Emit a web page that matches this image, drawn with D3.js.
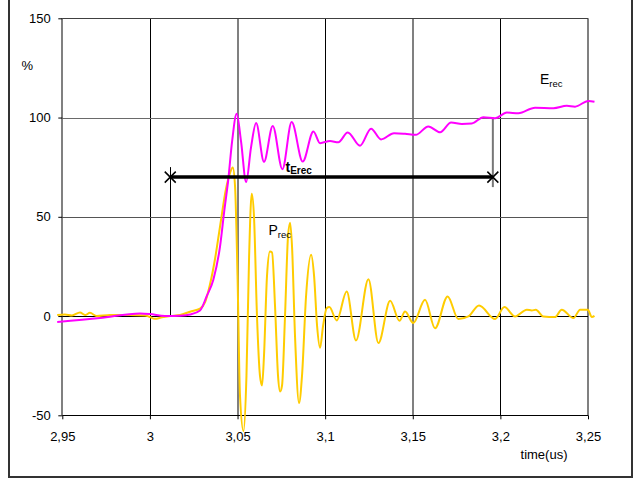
<!DOCTYPE html>
<html><head><meta charset="utf-8">
<script src="https://cdn.jsdelivr.net/npm/d3@7"></script>
<style>
body{margin:0;background:#fff;}
svg text{font-family:"Liberation Sans",Arial,sans-serif;fill:#000;}
</style></head>
<body>
<svg id="chart" width="635" height="479"></svg>
<script>
// ---- data ----
const xTicks = [2.95, 3.0, 3.05, 3.1, 3.15, 3.2, 3.25];
const xTickLabels = ["2,95", "3", "3,05", "3,1", "3,15", "3,2", "3,25"];
const yTicks = [-50, 0, 50, 100, 150];
const yTickLabels = ["-50", "0", "50", "100", "150"];

const eTime = [2.9471,2.9715,2.9944,3.0,3.0086,3.0172,3.0229,3.0286,3.0324,3.0362,3.04,3.0425,3.0447,3.0469,3.0495,3.052,3.0549,3.0577,3.0606,3.0651,3.0701,3.0756,3.0809,3.0872,3.0933,3.0971,3.1028,3.1075,3.1129,3.1199,3.1262,3.1319,3.1393,3.1456,3.1517,3.1589,3.1656,3.1719,3.178,3.1837,3.1903,3.197,3.2037,3.2103,3.2198,3.2303,3.2379,3.2426,3.2502,3.2537];
const eRec = [-3,-1,1.3,1,0,0.2,0.8,2.8,10,18.3,35,53.5,68.6,88,101.9,88,67.5,85,97.2,77.7,95.8,74,97.7,77.8,93,87.1,88.2,87.5,92.5,85.8,94.4,89,92.1,91.8,91.3,95.5,92.6,97.5,96.8,97,100.2,99.7,102.5,102.2,105,104.7,105.9,105.5,108.4,108];

const pTime = [2.9471,2.9515,2.9555,2.9601,2.963,2.9658,2.9696,2.9772,2.9886,2.9972,3.0,3.0029,3.0069,3.0115,3.0172,3.0229,3.0286,3.0315,3.0343,3.0372,3.04,3.0434,3.0457,3.0473,3.0486,3.05,3.0514,3.0534,3.0551,3.0566,3.0581,3.0594,3.0611,3.0628,3.064,3.0651,3.0668,3.0685,3.0697,3.0714,3.0731,3.0743,3.0754,3.0771,3.0788,3.08,3.0811,3.0828,3.0851,3.0868,3.0891,3.092,3.0937,3.0954,3.0971,3.0988,3.1009,3.1024,3.1066,3.1123,3.1176,3.1247,3.1304,3.1371,3.1424,3.1456,3.1503,3.157,3.1627,3.1699,3.176,3.1817,3.1878,3.197,3.2023,3.2084,3.2151,3.2179,3.2202,3.2245,3.2312,3.235,3.2417,3.2455,3.2499,3.2522,3.2537];
const pRec = [0.5,0.8,0.3,1.8,0.5,1.6,0,0.5,0.5,0.3,-0.5,-1.4,-0.6,0,0.5,2.2,3.7,7,16,29,45,64,72,74.8,65,20,-40,-58,-30,30,61.6,50,0,-30,-35,-20,20,32.5,32,5,-30,-38,-35,0,40,47,35,-10,-43.8,-30,10,30.9,20,-5,-16,-5,4,4.5,-2.2,12.4,-12.3,18.6,-13.6,7.7,-2.4,2.3,-3.5,8.2,-6.2,9.9,-1.5,-0.2,5.3,-1.5,4.5,-0.2,3.2,2.8,3.2,-0.2,-0.5,3.2,-1,3.2,3.2,-0.5,0.1];

const tStart = 3.0116, tEnd = 3.1957, tLevel = 70;

// ---- layout ----
const svg = d3.select("#chart");
const x = d3.scaleLinear().domain([2.95, 3.25]).range([62.3, 588]);
const y = d3.scaleLinear().domain([-50, 150]).range([415.3, 18.3]);

// outer frame
svg.append("rect").attr("x", 9).attr("y", -5).attr("width", 623).attr("height", 482)
  .attr("fill", "none").attr("stroke", "#333").attr("stroke-width", 2);

// gridlines
const vColors = ["#808080", "#000", "#808080", "#000", "#808080", "#000", "#808080"];
const vWidths = [2, 1, 2, 1, 2, 1, 2];
svg.append("g").selectAll("line").data(xTicks).join("line")
  .attr("x1", d => Math.round(x(d)) + (vWidths[xTicks.indexOf(d)] === 1 ? 0.5 : 0))
  .attr("x2", d => Math.round(x(d)) + (vWidths[xTicks.indexOf(d)] === 1 ? 0.5 : 0))
  .attr("y1", y(150)).attr("y2", y(-50))
  .attr("stroke", (d, i) => vColors[i]).attr("stroke-width", (d, i) => vWidths[i]);
const hColors = ["#000", "#000", "#555", "#6a6a6a", "#404040"];
svg.append("g").selectAll("line").data(yTicks).join("line")
  .attr("x1", x(2.95)).attr("x2", x(3.25))
  .attr("y1", d => Math.round(y(d)) + 0.5).attr("y2", d => Math.round(y(d)) + 0.5)
  .attr("stroke", (d, i) => hColors[i]).attr("stroke-width", 1);

// axes
const yAxis = d3.axisLeft(y).tickValues(yTicks).tickSize(4).tickPadding(7.5)
  .tickFormat((d, i) => yTickLabels[i]);
const gy = svg.append("g").attr("transform", `translate(${x(2.95)},0)`).call(yAxis);
gy.select(".domain").remove();
gy.selectAll("text").attr("font-size", 13).attr("font-family", "Liberation Sans, Arial, sans-serif").attr("fill", "#000");
gy.selectAll("line").attr("stroke", "#000");

const xAxis = d3.axisBottom(x).tickValues(xTicks).tickSize(4).tickPadding(12)
  .tickFormat((d, i) => xTickLabels[i]);
const gx = svg.append("g").attr("transform", `translate(0,${y(-50)})`).call(xAxis);
gx.select(".domain").remove();
gx.selectAll("text").attr("font-size", 13).attr("font-family", "Liberation Sans, Arial, sans-serif").attr("fill", "#000");
gx.selectAll("line").attr("stroke", "#000");

svg.append("text").attr("x", 21.5).attr("y", 70).attr("font-size", 13).text("%");
svg.append("text").attr("x", 544).attr("y", 459).attr("text-anchor", "middle").attr("font-size", 13).text("time(us)");

// vertical markers of t_Erec
svg.append("line").attr("x1", Math.round(x(tStart)) + 0.5).attr("x2", Math.round(x(tStart)) + 0.5)
  .attr("y1", y(tLevel) - 10).attr("y2", y(0)).attr("stroke", "#000").attr("stroke-width", 1);
svg.append("line").attr("x1", x(tEnd)).attr("x2", x(tEnd))
  .attr("y1", y(100)).attr("y2", y(tLevel) + 10).attr("stroke", "#777").attr("stroke-width", 2);

// series
const lineGen = d3.line().curve(d3.curveMonotoneX).x(d => x(d[0])).y(d => y(d[1]));
const pData = pTime.map((t, i) => [t, pRec[i]]);
const eData = eTime.map((t, i) => [t, eRec[i]]);
svg.append("path").datum(pData).attr("d", lineGen).attr("fill", "none")
  .attr("stroke", "#FFCC00").attr("stroke-width", 2);
svg.append("path").datum(eData).attr("d", lineGen).attr("fill", "none")
  .attr("stroke", "#FF00FF").attr("stroke-width", 2);

// t_Erec bar
svg.append("line").attr("x1", x(tStart)).attr("x2", x(tEnd)).attr("y1", y(tLevel)).attr("y2", y(tLevel))
  .attr("stroke", "#000").attr("stroke-width", 3.5);
[tStart, tEnd].forEach(t => {
  const cx = x(t), cy = y(tLevel), s = 5.5;
  svg.append("path").attr("d", `M${cx - s},${cy - s}L${cx + s},${cy + s}M${cx - s},${cy + s}L${cx + s},${cy - s}`)
    .attr("stroke", "#000").attr("stroke-width", 1.5).attr("fill", "none");
});

// labels
const eLab = svg.append("text").attr("x", 540).attr("y", 84).attr("font-size", 14);
eLab.append("tspan").text("E");
eLab.append("tspan").attr("font-size", 9.5).attr("dy", 3).text("rec");

const pLab = svg.append("text").attr("x", 268.5).attr("y", 235).attr("font-size", 14);
pLab.append("tspan").text("P");
pLab.append("tspan").attr("font-size", 9.5).attr("dy", 3).text("rec");

const tLab = svg.append("text").attr("x", 285.5).attr("y", 172).attr("font-size", 14).attr("font-weight", "bold");
tLab.append("tspan").text("t");
tLab.append("tspan").attr("font-size", 10).attr("dy", 2).text("Erec");
</script>
</body></html>
